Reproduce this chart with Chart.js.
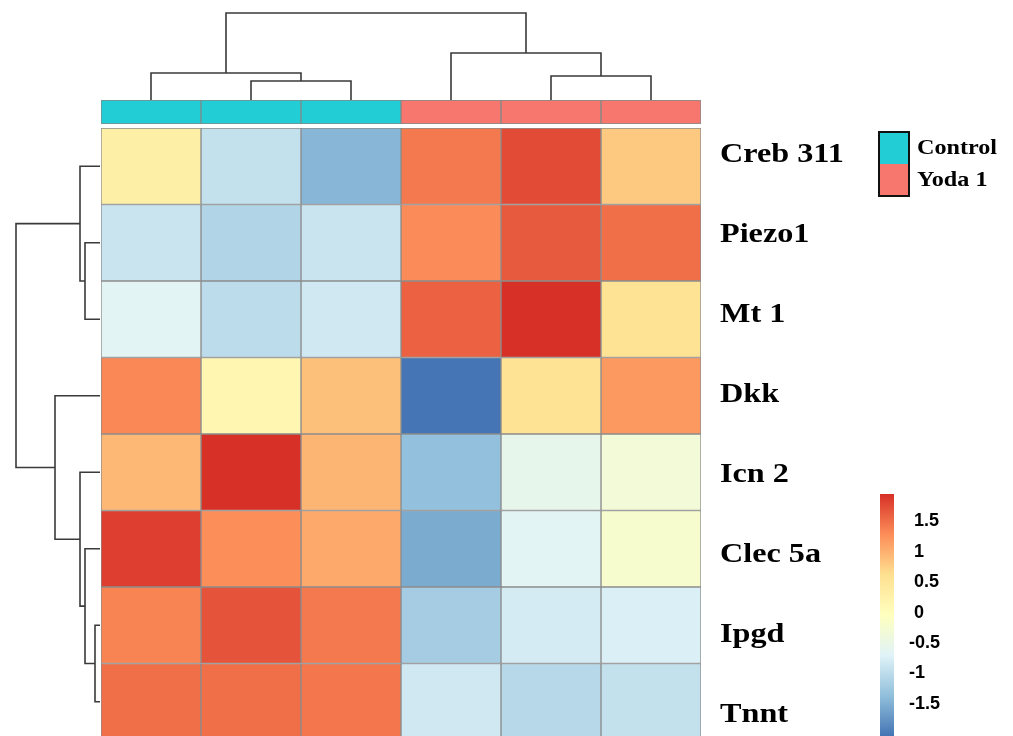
<!DOCTYPE html>
<html>
<head>
<meta charset="utf-8">
<script src="https://cdn.jsdelivr.net/npm/chart.js@4.4.1/dist/chart.umd.min.js"></script>
<style>
  html, body { margin: 0; padding: 0; background: #fff; overflow: hidden; }
  body { width: 1013px; height: 736px; position: relative; }
  canvas { position: absolute; }
</style>
</head>
<body>
<canvas id="heat" width="1013" height="740" style="left:0;top:0"></canvas>
<canvas id="annot" width="600" height="24" style="left:101px;top:100px"></canvas>
<canvas id="dendTop" width="600" height="100" style="left:101px;top:0"></canvas>
<canvas id="dendLeft" width="100" height="612" style="left:0;top:128px"></canvas>
<canvas id="scale" width="74" height="242" style="left:880px;top:494px"></canvas>
<script>
const samples = ['Control 1', 'Control 2', 'Control 3', 'Yoda 1 1', 'Yoda 1 2', 'Yoda 1 3'];
const sampleGroup = ['Control', 'Control', 'Control', 'Yoda 1', 'Yoda 1', 'Yoda 1'];
const groups = ['Control', 'Yoda 1'];
const groupColors = ['#22cdd5', '#f7776e'];
const genes = ['Creb 311', 'Piezo1', 'Mt 1', 'Dkk', 'Icn 2', 'Clec 5a', 'Ipgd', 'Tnnt'];

// row z-scores, one array per sample (column), genes in the order above
const control1 = [0.3, -0.9, -0.65, 1.33, 0.94, 1.85, 1.35, 1.5];
const control2 = [-0.95, -1.1, -1.0, 0.15, 1.95, 1.28, 1.7, 1.5];
const control3 = [-1.45, -0.9, -0.85, 0.88, 0.97, 1.06, 1.43, 1.45];
const yoda1 = [1.43, 1.3, 1.6, -2.03, -1.35, -1.55, -1.2, -0.85];
const yoda2 = [1.75, 1.65, 1.95, 0.55, -0.55, -0.65, -0.8, -1.05];
const yoda3 = [0.81, 1.5, 0.55, 1.19, -0.32, -0.22, -0.75, -0.95];
const columns = [control1, control2, control3, yoda1, yoda2, yoda3];

// clustering trees (hclust style: negative = leaf, positive = earlier merge)
const colMerge = [[-2, -3], [-1, 1], [-5, -6], [-4, 3], [2, 4]];
const colHeight = [19, 27, 24, 47, 87];
const rowMerge = [[-2, -3], [-1, 1], [-7, -8], [-6, 3], [-5, 4], [-4, 5], [2, 6]];
const rowHeight = [15, 20, 5, 15, 20, 45, 84];

const palette = ['#4575b4', '#91bfdb', '#e0f3f8', '#ffffbf', '#fee090', '#fc8d59', '#d73027'];
const scaleMin = -2.03, scaleMax = 1.95;
const scaleTicks = [1.5, 1, 0.5, 0, -0.5, -1, -1.5];

function hexRgb(h) {
  const n = parseInt(h.slice(1), 16);
  return [n >> 16, (n >> 8) & 255, n & 255];
}

function valueColor(v) {
  const t = Math.min(1, Math.max(0, (v - scaleMin) / (scaleMax - scaleMin))) * (palette.length - 1);
  const i = Math.min(palette.length - 2, Math.floor(t));
  const f = t - i;
  const a = hexRgb(palette[i]), b = hexRgb(palette[i + 1]);
  return 'rgb(' + a.map((c, k) => Math.round(c + (b[k] - c) * f)).join(',') + ')';
}

function dendroLines(merge, height, sideways) {
  const pos = [];
  const at = id => id < 0 ? [-id - 0.5, 0] : [pos[id - 1], height[id - 1]];
  return merge.map(([a, b], i) => {
    const [pa, ha] = at(a);
    const [pb, hb] = at(b);
    pos[i] = (pa + pb) / 2;
    const pts = [[pa, ha], [pa, height[i]], [pb, height[i]], [pb, hb]];
    return pts.map(([p, v]) => sideways ? { x: v, y: p } : { x: p, y: v });
  });
}

const quiet = { legend: { display: false }, tooltip: { enabled: false } };

function serifText(c, txt, x, y, size) {
  c.save();
  c.translate(x, y);
  c.scale(1.15, 1);
  c.font = 'bold ' + size + 'px "Liberation Serif"';
  c.fillText(txt, 0, 0);
  c.restore();
}

const sideText = {
  id: 'sideText',
  afterDraw(chart) {
    const c = chart.ctx;
    c.save();
    c.fillStyle = '#000';
    c.textBaseline = 'middle';
    genes.forEach((g, i) => serifText(c, g, 720, 155 + 80 * i, 28));

    // group legend
    c.fillStyle = groupColors[0];
    c.fillRect(879, 132, 30, 32);
    c.fillStyle = groupColors[1];
    c.fillRect(879, 164, 30, 32);
    c.strokeStyle = '#111';
    c.lineWidth = 2;
    c.strokeRect(879, 132, 30, 64);
    c.fillStyle = '#000';
    serifText(c, groups[0], 917, 149, 21);
    serifText(c, groups[1], 917, 181, 21);
    c.restore();
  }
};

new Chart(document.getElementById('heat'), {
  type: 'bar',
  data: {
    labels: genes,
    datasets: columns.map((vals, j) => ({
      label: samples[j],
      data: vals.map(() => 1),
      backgroundColor: vals.map(valueColor),
      borderColor: '#8c8c8c',
      borderWidth: 1,
      borderSkipped: false,
      barPercentage: 1,
      categoryPercentage: 1
    }))
  },
  options: {
    indexAxis: 'y',
    responsive: false,
    animation: false,
    layout: { padding: { left: 101, right: 312, top: 128, bottom: 0 } },
    plugins: quiet,
    scales: {
      x: { stacked: true, min: 0, max: 6, display: false },
      y: { stacked: true, display: false }
    }
  },
  plugins: [sideText]
});

new Chart(document.getElementById('annot'), {
  type: 'bar',
  data: {
    labels: samples,
    datasets: [{
      data: samples.map(() => 1),
      backgroundColor: sampleGroup.map(g => groupColors[groups.indexOf(g)]),
      borderColor: '#7f8b8b',
      borderWidth: 1,
      borderSkipped: false,
      barPercentage: 1,
      categoryPercentage: 1
    }]
  },
  options: {
    responsive: false,
    animation: false,
    plugins: quiet,
    scales: { x: { display: false }, y: { display: false, min: 0, max: 1 } }
  }
});

function dendroChart(id, lines, xOpts, yOpts) {
  new Chart(document.getElementById(id), {
    type: 'scatter',
    data: {
      datasets: lines.map(pts => ({
        data: pts,
        showLine: true,
        borderColor: '#3a3a3a',
        borderWidth: 1.6,
        pointRadius: 0,
        tension: 0,
        clip: false
      }))
    },
    options: {
      responsive: false,
      animation: false,
      plugins: quiet,
      scales: {
        x: Object.assign({ type: 'linear', display: false }, xOpts),
        y: Object.assign({ type: 'linear', display: false }, yOpts)
      }
    }
  });
}

dendroChart('dendTop', dendroLines(colMerge, colHeight, false), { min: 0, max: 6 }, { min: 0, max: 100 });
dendroChart('dendLeft', dendroLines(rowMerge, rowHeight, true), { min: 0, max: 100, reverse: true }, { min: 0, max: 8, reverse: true });

new Chart(document.getElementById('scale'), {
  type: 'bar',
  data: {
    labels: ['z'],
    datasets: [{
      data: [[scaleMin, scaleMax]],
      backgroundColor: ctx => {
        const chart = ctx.chart;
        if (!chart.chartArea) return null;
        const y = chart.scales.y;
        const g = chart.ctx.createLinearGradient(0, y.getPixelForValue(scaleMin), 0, y.getPixelForValue(scaleMax));
        palette.forEach((p, i) => g.addColorStop(i / (palette.length - 1), p));
        return g;
      },
      borderWidth: 0,
      barPercentage: 1,
      categoryPercentage: 1
    }]
  },
  options: {
    responsive: false,
    animation: false,
    plugins: quiet,
    scales: {
      x: { display: false },
      y: {
        position: 'right',
        min: scaleMin,
        max: scaleMax,
        afterFit: s => { s.width = 60; s.paddingTop = 0; s.paddingBottom = 0; },
        afterBuildTicks: s => { s.ticks = scaleTicks.map(v => ({ value: v })); },
        grid: { display: false, drawTicks: false },
        border: { display: false },
        ticks: {
          padding: 15,
          color: '#000',
          font: { family: 'Liberation Sans', size: 18, weight: 'bold' },
          callback: v => (v < 0 ? '' : ' ') + v
        }
      }
    }
  }
});
</script>
</body>
</html>
